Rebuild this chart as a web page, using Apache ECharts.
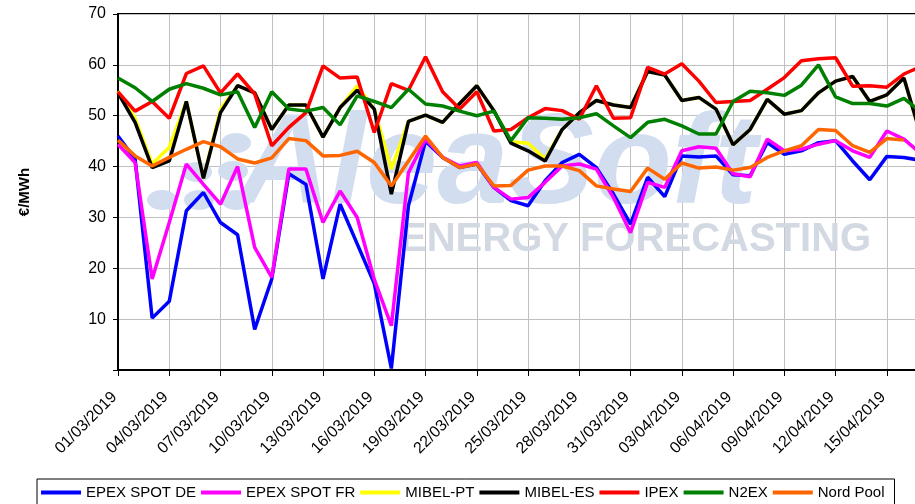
<!DOCTYPE html>
<html>
<head>
<meta charset="utf-8">
<title>Precios mercados eléctricos europeos</title>
<script src="https://cdn.jsdelivr.net/npm/echarts/dist/echarts.min.js"></script>
<style>
    html, body { margin: 0; padding: 0; background: #fff; }
    #chart { width: 915px; height: 504px; }
</style>
</head>
<body>
<div id="chart"></div>
<script>
    // days 01/03/2019 .. 17/04/2019
    var dates = [
        '01/03/2019', '02/03/2019', '03/03/2019', '04/03/2019', '05/03/2019', '06/03/2019',
        '07/03/2019', '08/03/2019', '09/03/2019', '10/03/2019', '11/03/2019', '12/03/2019',
        '13/03/2019', '14/03/2019', '15/03/2019', '16/03/2019', '17/03/2019', '18/03/2019',
        '19/03/2019', '20/03/2019', '21/03/2019', '22/03/2019', '23/03/2019', '24/03/2019',
        '25/03/2019', '26/03/2019', '27/03/2019', '28/03/2019', '29/03/2019', '30/03/2019',
        '31/03/2019', '01/04/2019', '02/04/2019', '03/04/2019', '04/04/2019', '05/04/2019',
        '06/04/2019', '07/04/2019', '08/04/2019', '09/04/2019', '10/04/2019', '11/04/2019',
        '12/04/2019', '13/04/2019', '14/04/2019', '15/04/2019', '16/04/2019', '17/04/2019'
    ];

    var epexDE = [46.0, 41.5, 10.2, 13.5, 31.3, 34.9, 29.0, 26.6, 8.0, 17.9, 38.6, 36.5,
        17.9, 32.6, 24.8, 17.0, 0.3, 32.3, 45.0, 41.8, 39.8, 40.5, 35.9, 33.3,
        32.3, 37.2, 40.8, 42.4, 39.8, 34.6, 28.7, 37.9, 34.1, 42.1, 41.9, 42.1,
        38.4, 38.2, 44.7, 42.4, 43.1, 44.7, 45.1, 41.1, 37.4, 42.0, 41.8, 41.2];

    var epexFR = [44.4, 40.8, 17.9, 29.0, 40.5, 36.5, 32.6, 40.0, 24.1, 18.2, 39.5, 39.5,
        29.0, 35.2, 30.0, 17.8, 8.7, 38.8, 45.4, 41.8, 40.1, 40.8, 35.9, 33.6,
        33.9, 36.9, 40.1, 40.5, 39.5, 33.9, 27.0, 36.9, 35.9, 43.1, 43.9, 43.6,
        38.6, 38.0, 45.4, 43.1, 43.4, 44.4, 45.1, 43.1, 41.8, 47.0, 45.4, 42.5];

    var mibelPT = [54.8, 49.5, 40.5, 43.8, 52.8, 37.7, 51.3, 55.9, 54.5, 47.3, 52.1, 52.1,
        45.8, 51.6, 55.9, 51.3, 39.5, 48.9, 50.1, 48.7, 52.4, 55.9, 51.0, 44.9,
        44.6, 41.5, 47.3, 50.6, 53.0, 52.1, 51.6, 58.7, 58.0, 53.0, 53.6, 51.3,
        44.3, 47.3, 53.2, 50.3, 51.0, 54.5, 56.8, 57.7, 52.8, 54.1, 57.4, 46.0];

    var mibelES = [54.5, 48.7, 39.8, 41.1, 52.8, 37.7, 50.6, 55.9, 54.5, 47.3, 52.1, 52.1,
        45.8, 51.6, 55.0, 51.3, 34.6, 48.9, 50.1, 48.7, 52.4, 55.9, 51.0, 44.6,
        43.1, 41.1, 47.3, 50.6, 53.0, 52.1, 51.6, 58.7, 58.0, 53.0, 53.6, 51.3,
        44.3, 47.3, 53.2, 50.3, 51.0, 54.5, 56.8, 57.7, 52.8, 54.1, 57.4, 46.0];

    var ipex = [54.7, 50.9, 52.8, 49.5, 58.3, 59.8, 54.5, 58.2, 54.3, 44.1, 47.7, 50.6,
        59.8, 57.4, 57.6, 46.7, 56.3, 55.0, 61.6, 54.7, 51.3, 54.7, 47.0, 47.3,
        49.6, 51.4, 51.0, 49.3, 55.9, 49.5, 49.6, 59.5, 58.2, 60.2, 56.8, 52.6,
        52.8, 53.0, 55.2, 57.5, 60.8, 61.2, 61.4, 55.8, 55.9, 55.6, 58.2, 59.7];

    var n2ex = [57.4, 55.5, 52.8, 55.2, 56.3, 55.4, 54.1, 54.7, 47.7, 54.7, 51.3, 50.9,
        51.6, 48.2, 53.9, 52.8, 51.6, 55.2, 52.3, 51.9, 50.9, 50.0, 50.9, 45.1,
        49.6, 49.5, 49.3, 49.6, 50.4, 48.0, 45.7, 48.7, 49.3, 48.0, 46.4, 46.4,
        52.8, 54.8, 54.5, 54.0, 56.0, 60.0, 53.7, 52.4, 52.4, 51.9, 53.4, 50.7];

    var nordPool = [45.2, 42.1, 40.1, 41.8, 43.4, 44.9, 43.9, 41.5, 40.7, 41.7, 45.5, 45.1,
        42.1, 42.2, 43.0, 40.8, 36.2, 41.1, 46.0, 41.8, 39.8, 40.5, 36.2, 36.3,
        39.3, 40.1, 40.1, 39.2, 36.2, 35.6, 35.1, 39.7, 37.5, 40.7, 39.7, 39.9,
        39.3, 39.8, 41.8, 43.1, 44.1, 47.3, 47.1, 44.1, 42.8, 45.5, 45.2, null];

    var seriesNames = ['EPEX SPOT DE', 'EPEX SPOT FR', 'MIBEL-PT', 'MIBEL-ES', 'IPEX', 'N2EX', 'Nord Pool'];
    var seriesData = [epexDE, epexFR, mibelPT, mibelES, ipex, n2ex, nordPool];
    var seriesColors = ['#0000ff', '#ff00ff', '#ffff00', '#000000', '#ff0000', '#008000', '#ff6600'];

    var font = 'Liberation Sans, Arial, sans-serif';

    var series = [];
    for (var i = 0; i < seriesNames.length; i++) {
        series.push({
            name: seriesNames[i],
            type: 'line',
            data: seriesData[i],
            showSymbol: false,
            symbol: 'none',
            z: 3 + i,
            lineStyle: { color: seriesColors[i], width: 3.5 },
            itemStyle: { color: seriesColors[i] }
        });
    }

    // watermark (logo dots + text)
    var wm = '#d2ddef';
    var dots = [[162, 200], [199, 200], [236, 200], [197, 172], [233, 171], [236, 143]];
    var graphics = [];
    dots.forEach(function (d) {
        graphics.push({
            type: 'ellipse', z: 1, silent: true,
            shape: { cx: d[0], cy: d[1], rx: 15, ry: 10 },
            style: { fill: wm }
        });
    });
    graphics.push({
        type: 'text', z: 1, silent: true, left: 238, top: 104,
        style: {
            text: 'AleaSoft', fill: wm,
            font: 'italic bold 128px ' + font
        }
    });
    graphics.push({
        type: 'text', z: 1, silent: true, left: 400, top: 220,
        style: {
            text: 'ENERGY FORECASTING', fill: '#d3d9e3',
            font: 'bold 40px ' + font
        }
    });

    var chart = echarts.init(document.getElementById('chart'));
    chart.setOption({
        animation: false,
        backgroundColor: '#fff',
        textStyle: { fontFamily: font },
        graphic: graphics,
        grid: {
            left: 118, top: 14, right: -6, bottom: 134,
            outerBoundsMode: 'none',
            show: true, borderColor: '#000', borderWidth: 2, backgroundColor: 'transparent'
        },
        legend: {
            left: 37, top: 479,
            padding: [6, 10, 20, 4],
            borderColor: '#000', borderWidth: 1,
            itemWidth: 40, itemHeight: 4, itemGap: 5,
            icon: 'rect',
            textStyle: { fontSize: 15, color: '#000', fontFamily: font },
            data: seriesNames
        },
        xAxis: {
            type: 'category',
            data: dates,
            boundaryGap: false,
            axisLine: { lineStyle: { color: '#000', width: 2 } },
            axisTick: { interval: 2, length: 6, lineStyle: { color: '#000', width: 1 } },
            axisLabel: {
                interval: 2, rotate: 45, fontSize: 16, color: '#000',
                margin: 21, padding: [0, 5, 0, 0], fontFamily: font
            },
            splitLine: { show: true, interval: 2, lineStyle: { color: '#c0c0c0', width: 1 } }
        },
        yAxis: {
            type: 'value',
            min: 0, max: 70, interval: 10,
            name: '€/MWh',
            nameLocation: 'middle',
            nameRotate: 90,
            nameGap: 86,
            nameTextStyle: { fontSize: 15, fontWeight: 'bold', color: '#000', fontFamily: font },
            axisLine: { show: true, lineStyle: { color: '#000', width: 2 } },
            axisTick: { show: true, length: 5, lineStyle: { color: '#000' } },
            axisLabel: {
                fontSize: 16, color: '#000', margin: 12, fontFamily: font,
                formatter: function (v) { return v === 0 ? '' : v; }
            },
            splitLine: { show: true, lineStyle: { color: '#c0c0c0', width: 1 } }
        },
        series: series
    });
</script>
</body>
</html>
